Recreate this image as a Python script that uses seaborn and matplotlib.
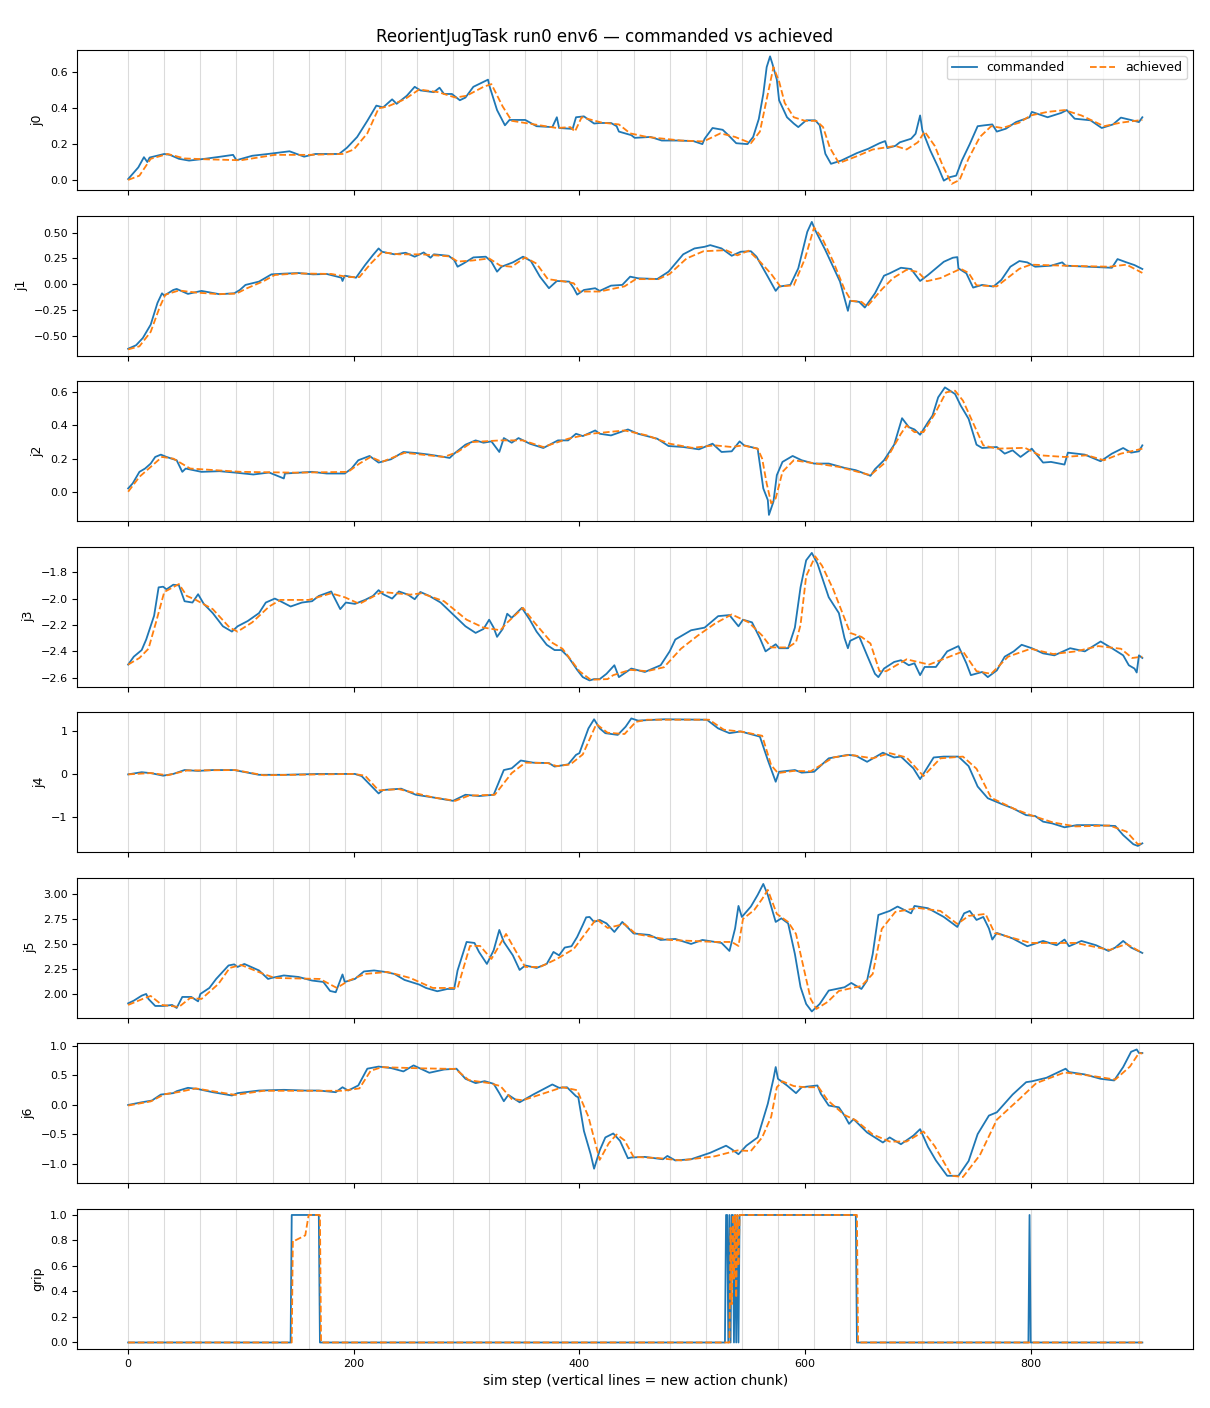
import pandas as pd
import matplotlib
matplotlib.use("Agg")
import matplotlib.pyplot as plt
import seaborn as sns

# joint traces: step positions and values (commanded / achieved)
J0_CMD_STEP = [0, 9, 14, 17, 19, 32, 37, 45, 54, 68, 82, 93, 96, 110, 124, 143, 156, 166, 187, 194,
               203, 212, 220, 226, 234, 238, 247, 254, 259, 271, 276, 280, 287, 294, 299, 306, 319,
               320, 327, 334, 338, 352, 362, 376, 380, 382, 394, 397, 404, 413, 418, 428, 433, 435,
               446, 449, 463, 473, 487, 501, 509, 511, 518, 527, 532, 539, 549, 554, 559, 563, 566,
               569, 571, 575, 577, 584, 590, 594, 601, 609, 613, 618, 623, 632, 646, 656, 666, 671,
               673, 680, 684, 694, 698, 702, 704, 711, 718, 723, 728, 734, 739, 746, 753, 759, 766,
               770, 778, 787, 799, 801, 815, 827, 832, 839, 853, 863, 873, 880, 890, 896, 899]
J0_CMD = [0.005, 0.07, 0.127, 0.10, 0.125, 0.145, 0.14, 0.118, 0.108, 0.118, 0.13, 0.14, 0.11, 0.135,
          0.145, 0.16, 0.13, 0.145, 0.145, 0.18, 0.24, 0.33, 0.415, 0.405, 0.45, 0.425, 0.47, 0.52,
          0.50, 0.49, 0.515, 0.48, 0.48, 0.445, 0.46, 0.52, 0.56, 0.53, 0.39, 0.305, 0.335, 0.335,
          0.30, 0.295, 0.35, 0.29, 0.285, 0.35, 0.355, 0.315, 0.318, 0.318, 0.30, 0.27, 0.25, 0.235,
          0.24, 0.22, 0.22, 0.217, 0.20, 0.23, 0.29, 0.28, 0.25, 0.205, 0.20, 0.24, 0.34, 0.48, 0.63,
          0.69, 0.65, 0.56, 0.445, 0.35, 0.315, 0.295, 0.333, 0.333, 0.305, 0.146, 0.09, 0.108, 0.15,
          0.174, 0.205, 0.217, 0.178, 0.19, 0.21, 0.23, 0.258, 0.36, 0.277, 0.165, 0.071, -0.004,
          0.015, 0.024, 0.108, 0.20, 0.30, 0.305, 0.31, 0.27, 0.286, 0.323, 0.35, 0.38, 0.35, 0.374,
          0.39, 0.342, 0.333, 0.29, 0.31, 0.348, 0.333, 0.323, 0.35]
J0_ACH_STEP = [0, 10, 20, 35, 50, 70, 100, 130, 160, 190, 200, 212, 222, 230, 245, 258, 275, 290, 300,
               315, 322, 332, 340, 360, 380, 392, 396, 402, 420, 435, 445, 460, 490, 510, 525, 538,
               552, 560, 566, 572, 577, 582, 590, 600, 610, 616, 622, 630, 645, 660, 680, 690, 700,
               706, 715, 722, 730, 737, 745, 755, 765, 775, 790, 800, 815, 830, 845, 865, 880, 899]
J0_ACH = [0.0, 0.024, 0.118, 0.145, 0.12, 0.115, 0.11, 0.14, 0.14, 0.145, 0.17, 0.26, 0.40, 0.41, 0.45,
          0.505, 0.49, 0.46, 0.47, 0.52, 0.535, 0.41, 0.33, 0.31, 0.29, 0.295, 0.27, 0.35, 0.32, 0.31,
          0.26, 0.24, 0.22, 0.215, 0.26, 0.24, 0.205, 0.27, 0.45, 0.63, 0.55, 0.43, 0.35, 0.33, 0.33,
          0.295, 0.18, 0.094, 0.13, 0.17, 0.19, 0.17, 0.21, 0.27, 0.19, 0.08, -0.022, 0.0, 0.12, 0.24,
          0.30, 0.29, 0.32, 0.36, 0.38, 0.39, 0.36, 0.30, 0.32, 0.335]

J1_CMD_STEP = [0, 7, 13, 20, 26, 30, 32, 40, 43, 53, 65, 81, 94, 99, 104, 116, 127, 138, 151, 164, 176,
               189, 190, 192, 202, 210, 217, 222, 225, 236, 246, 254, 262, 268, 271, 284, 289, 292,
               297, 306, 317, 322, 327, 331, 341, 350, 357, 365, 373, 380, 391, 395, 398, 404, 414,
               418, 428, 438, 445, 452, 469, 479, 492, 502, 511, 516, 526, 535, 543, 552, 557, 567,
               574, 577, 587, 594, 602, 606, 609, 618, 631, 638, 640, 648, 653, 662, 670, 675, 685,
               694, 702, 709, 723, 731, 735, 736, 743, 749, 757, 767, 774, 782, 790, 797, 804, 818,
               828, 831, 851, 872, 877, 885, 892, 899]
J1_CMD = [-0.624, -0.59, -0.52, -0.39, -0.18, -0.087, -0.11, -0.055, -0.045, -0.093, -0.064, -0.096,
          -0.087, -0.055, -0.006, 0.026, 0.096, 0.103, 0.109, 0.096, 0.10, 0.064, 0.032, 0.083, 0.064,
          0.186, 0.283, 0.347, 0.315, 0.29, 0.305, 0.267, 0.308, 0.257, 0.29, 0.276, 0.235, 0.17, 0.20,
          0.26, 0.267, 0.218, 0.122, 0.17, 0.212, 0.267, 0.225, 0.074, -0.038, 0.032, 0.026, -0.038,
          -0.10, -0.055, -0.038, -0.064, -0.013, -0.006, 0.074, 0.058, 0.051, 0.122, 0.29, 0.347,
          0.363, 0.379, 0.347, 0.276, 0.315, 0.32, 0.267, 0.074, -0.064, -0.022, -0.006, 0.154, 0.508,
          0.604, 0.524, 0.331, 0.026, -0.257, -0.16, -0.17, -0.225, -0.087, 0.083, 0.106, 0.16, 0.148,
          0.032, 0.09, 0.218, 0.257, 0.263, 0.154, 0.106, -0.032, -0.006, -0.022, 0.042, 0.17, 0.225,
          0.212, 0.17, 0.18, 0.212, 0.18, 0.17, 0.16, 0.244, 0.212, 0.186, 0.148]
J1_ACH_STEP = [0, 10, 20, 28, 33, 45, 60, 80, 96, 105, 120, 130, 150, 180, 195, 205, 215, 225, 240, 260,
               285, 292, 305, 320, 330, 340, 352, 362, 372, 385, 395, 400, 418, 440, 450, 470, 480,
               495, 510, 530, 540, 550, 560, 570, 578, 590, 600, 608, 615, 625, 635, 641, 650, 655,
               668, 678, 690, 700, 708, 720, 738, 745, 752, 770, 790, 800, 830, 870, 885, 899]
J1_ACH = [-0.63, -0.60, -0.46, -0.22, -0.10, -0.06, -0.08, -0.095, -0.09, -0.04, 0.03, 0.09, 0.105,
          0.10, 0.07, 0.07, 0.20, 0.31, 0.29, 0.29, 0.27, 0.22, 0.23, 0.25, 0.18, 0.17, 0.26, 0.20,
          0.05, 0.03, 0.01, -0.07, -0.07, -0.02, 0.05, 0.05, 0.10, 0.25, 0.32, 0.33, 0.28, 0.325, 0.22,
          0.10, -0.02, -0.01, 0.25, 0.55, 0.45, 0.22, -0.05, -0.16, -0.17, -0.215, -0.05, 0.06, 0.14,
          0.12, 0.03, 0.06, 0.15, 0.11, -0.01, -0.02, 0.15, 0.19, 0.18, 0.17, 0.19, 0.11]

J2_CMD_STEP = [0, 4, 10, 15, 20, 24, 29, 34, 43, 48, 51, 65, 81, 94, 111, 125, 138, 139, 163, 176, 192,
               198, 204, 214, 222, 233, 244, 255, 267, 280, 285, 289, 299, 308, 315, 322, 329, 333,
               340, 346, 356, 368, 381, 390, 397, 403, 414, 418, 428, 443, 452, 469, 479, 492, 506,
               518, 526, 535, 542, 546, 558, 563, 567, 568, 572, 575, 580, 589, 597, 608, 621, 635,
               645, 658, 662, 670, 679, 686, 692, 697, 702, 709, 713, 718, 724, 733, 738, 745, 752,
               757, 770, 777, 784, 791, 801, 811, 818, 830, 833, 848, 862, 872, 882, 889, 896, 899]
J2_CMD = [0.02, 0.05, 0.12, 0.14, 0.17, 0.21, 0.224, 0.21, 0.19, 0.12, 0.14, 0.12, 0.124, 0.116, 0.104,
          0.116, 0.08, 0.11, 0.12, 0.11, 0.11, 0.14, 0.19, 0.216, 0.176, 0.196, 0.24, 0.234, 0.224,
          0.21, 0.204, 0.23, 0.284, 0.31, 0.296, 0.304, 0.24, 0.324, 0.296, 0.324, 0.29, 0.264, 0.31,
          0.31, 0.35, 0.336, 0.37, 0.35, 0.34, 0.376, 0.35, 0.32, 0.276, 0.27, 0.256, 0.29, 0.24, 0.244,
          0.304, 0.28, 0.26, 0.02, -0.05, -0.14, -0.06, 0.10, 0.18, 0.216, 0.19, 0.17, 0.17, 0.144,
          0.13, 0.096, 0.136, 0.19, 0.284, 0.444, 0.39, 0.376, 0.344, 0.42, 0.46, 0.57, 0.63, 0.59,
          0.52, 0.44, 0.284, 0.264, 0.27, 0.23, 0.25, 0.21, 0.26, 0.176, 0.18, 0.164, 0.236, 0.224,
          0.184, 0.23, 0.264, 0.236, 0.244, 0.28]
J2_ACH_STEP = [0, 10, 20, 30, 40, 55, 100, 150, 195, 205, 215, 225, 245, 280, 292, 305, 330, 350, 368,
               390, 410, 440, 460, 480, 500, 520, 535, 545, 558, 562, 566, 570, 574, 580, 590, 610,
               630, 658, 670, 685, 690, 697, 705, 715, 725, 733, 740, 750, 758, 770, 795, 808, 830,
               850, 865, 880, 899]
J2_ACH = [0.0, 0.09, 0.15, 0.21, 0.20, 0.14, 0.12, 0.115, 0.12, 0.17, 0.21, 0.18, 0.235, 0.21, 0.24,
          0.30, 0.31, 0.31, 0.27, 0.32, 0.35, 0.37, 0.34, 0.29, 0.265, 0.28, 0.27, 0.28, 0.26, 0.20,
          0.05, -0.07, -0.04, 0.12, 0.19, 0.17, 0.15, 0.10, 0.17, 0.35, 0.40, 0.36, 0.36, 0.47, 0.60,
          0.61, 0.55, 0.40, 0.28, 0.26, 0.265, 0.22, 0.21, 0.22, 0.19, 0.23, 0.26]

J3_CMD_STEP = [0, 5, 12, 16, 23, 27, 31, 34, 40, 45, 50, 57, 62, 67, 75, 84, 92, 97, 106, 116, 122, 130,
               135, 144, 154, 163, 169, 180, 188, 193, 201, 210, 217, 222, 226, 234, 240, 248, 254,
               259, 267, 277, 288, 299, 308, 315, 320, 324, 327, 332, 336, 340, 349, 356, 362, 371,
               378, 384, 390, 398, 403, 409, 413, 418, 424, 431, 435, 446, 458, 472, 480, 485, 499,
               511, 523, 533, 541, 545, 553, 560, 565, 574, 577, 585, 591, 596, 601, 606, 611, 621,
               630, 635, 638, 640, 648, 655, 662, 665, 670, 679, 685, 692, 697, 702, 706, 716, 726,
               736, 743, 747, 757, 762, 770, 777, 785, 792, 801, 811, 821, 835, 848, 862, 872, 882,
               887, 892, 894, 896, 899]
J3_CMD = [-2.50, -2.44, -2.39, -2.31, -2.13, -1.915, -1.91, -1.93, -1.895, -1.90, -2.02, -2.03, -1.967,
          -2.04, -2.11, -2.21, -2.25, -2.21, -2.17, -2.11, -2.03, -2.0, -2.02, -2.06, -2.03, -2.02,
          -1.98, -1.946, -2.08, -2.03, -2.04, -2.01, -1.98, -1.936, -1.967, -2.0, -1.946, -1.97,
          -2.005, -1.95, -1.98, -2.03, -2.12, -2.21, -2.26, -2.23, -2.16, -2.22, -2.29, -2.23, -2.115,
          -2.146, -2.07, -2.16, -2.25, -2.35, -2.39, -2.39, -2.44, -2.54, -2.595, -2.62, -2.61, -2.61,
          -2.57, -2.505, -2.595, -2.53, -2.556, -2.505, -2.40, -2.31, -2.24, -2.22, -2.133, -2.125,
          -2.21, -2.16, -2.18, -2.30, -2.40, -2.346, -2.376, -2.376, -2.22, -1.915, -1.71, -1.654,
          -1.735, -1.99, -2.11, -2.30, -2.376, -2.32, -2.287, -2.43, -2.57, -2.595, -2.53, -2.48,
          -2.467, -2.505, -2.49, -2.58, -2.518, -2.518, -2.40, -2.36, -2.49, -2.58, -2.556, -2.595,
          -2.544, -2.44, -2.40, -2.35, -2.376, -2.415, -2.43, -2.376, -2.40, -2.325, -2.376, -2.43,
          -2.505, -2.53, -2.56, -2.43, -2.45]
J3_ACH_STEP = [0, 10, 18, 25, 32, 45, 52, 60, 75, 90, 97, 110, 125, 135, 160, 180, 192, 205, 225, 250,
               260, 280, 300, 315, 330, 335, 350, 360, 375, 385, 400, 410, 425, 430, 445, 460, 475,
               490, 505, 520, 535, 550, 562, 570, 585, 592, 596, 601, 609, 615, 625, 640, 650, 658,
               666, 672, 690, 700, 710, 725, 740, 752, 765, 780, 800, 820, 840, 860, 880, 890, 899]
J3_ACH = [-2.50, -2.45, -2.38, -2.17, -1.95, -1.89, -1.98, -2.01, -2.08, -2.22, -2.25, -2.18, -2.06,
          -2.01, -2.01, -1.96, -1.99, -2.04, -1.95, -1.97, -1.96, -2.02, -2.16, -2.22, -2.24, -2.19,
          -2.07, -2.18, -2.33, -2.38, -2.55, -2.615, -2.61, -2.58, -2.54, -2.55, -2.52, -2.38, -2.28,
          -2.19, -2.12, -2.18, -2.28, -2.37, -2.37, -2.33, -2.2, -1.83, -1.68, -1.75, -1.93, -2.26,
          -2.29, -2.34, -2.55, -2.55, -2.46, -2.48, -2.50, -2.45, -2.40, -2.55, -2.57, -2.44, -2.38,
          -2.42, -2.40, -2.36, -2.38, -2.45, -2.44]

J4_CMD_STEP = [0, 12, 21, 31, 40, 50, 62, 75, 94, 116, 138, 169, 201, 207, 216, 222, 226, 242, 255, 270,
               288, 299, 311, 324, 333, 340, 348, 359, 373, 378, 390, 397, 400, 408, 413, 418, 423,
               434, 441, 446, 452, 475, 513, 523, 533, 543, 560, 567, 574, 577, 591, 597, 608, 621,
               638, 645, 655, 669, 679, 685, 696, 702, 714, 723, 736, 745, 753, 762, 774, 784, 796,
               804, 811, 819, 830, 841, 858, 875, 882, 891, 895, 899]
J4_CMD = [-0.01, 0.04, 0.015, -0.04, 0.0, 0.09, 0.07, 0.09, 0.09, -0.02, -0.02, 0.0, 0.0, -0.05, -0.29,
          -0.45, -0.37, -0.34, -0.48, -0.54, -0.62, -0.48, -0.51, -0.48, 0.09, 0.13, 0.31, 0.26, 0.25,
          0.17, 0.22, 0.44, 0.48, 1.05, 1.26, 1.05, 0.94, 0.90, 1.09, 1.28, 1.23, 1.26, 1.25, 1.05,
          0.94, 0.98, 0.86, 0.32, -0.18, 0.05, 0.09, 0.03, 0.05, 0.36, 0.44, 0.42, 0.28, 0.49, 0.38,
          0.40, 0.13, -0.12, 0.38, 0.40, 0.40, 0.18, -0.29, -0.56, -0.69, -0.79, -0.95, -0.97, -1.10,
          -1.14, -1.23, -1.18, -1.18, -1.20, -1.41, -1.62, -1.66, -1.60]
J4_ACH_STEP = [0, 20, 35, 52, 95, 120, 200, 210, 222, 240, 270, 290, 302, 325, 340, 352, 372, 380, 392,
               403, 415, 425, 440, 450, 460, 515, 528, 545, 562, 570, 576, 590, 605, 625, 640, 660,
               675, 690, 705, 720, 740, 752, 765, 785, 800, 820, 840, 870, 885, 895, 899]
J4_ACH = [-0.01, 0.02, -0.03, 0.08, 0.09, -0.03, 0.0, -0.04, -0.38, -0.35, -0.54, -0.62, -0.50, -0.48,
          0.02, 0.26, 0.25, 0.18, 0.22, 0.45, 1.15, 0.95, 0.92, 1.20, 1.25, 1.25, 1.02, 0.97, 0.88,
          0.20, 0.02, 0.07, 0.06, 0.38, 0.44, 0.36, 0.48, 0.38, -0.05, 0.36, 0.40, 0.12, -0.55, -0.80,
          -0.95, -1.12, -1.21, -1.19, -1.33, -1.62, -1.60]

J5_CMD_STEP = [0, 5, 12, 16, 18, 24, 31, 39, 43, 48, 56, 62, 64, 72, 78, 89, 94, 97, 103, 116, 124, 127,
               138, 151, 163, 173, 179, 184, 190, 192, 201, 209, 218, 228, 236, 245, 258, 264, 274,
               283, 289, 292, 300, 307, 311, 318, 324, 329, 333, 341, 347, 352, 362, 371, 377, 382,
               387, 393, 398, 403, 406, 409, 413, 418, 424, 431, 438, 448, 462, 472, 485, 499, 509,
               526, 533, 538, 541, 544, 552, 558, 563, 567, 574, 579, 585, 591, 596, 601, 606, 613,
               621, 635, 641, 650, 655, 660, 665, 675, 682, 694, 697, 709, 723, 735, 741, 746, 752,
               758, 763, 766, 770, 784, 797, 811, 823, 830, 834, 845, 858, 869, 875, 882, 889, 899]
J5_CMD = [1.906, 1.933, 1.983, 2.0, 1.95, 1.88, 1.88, 1.89, 1.86, 1.97, 1.97, 1.926, 2.0, 2.06, 2.15,
          2.285, 2.296, 2.27, 2.30, 2.235, 2.15, 2.16, 2.185, 2.17, 2.134, 2.12, 2.03, 2.017, 2.195,
          2.12, 2.15, 2.225, 2.235, 2.22, 2.20, 2.14, 2.094, 2.06, 2.027, 2.05, 2.05, 2.235, 2.52, 2.51,
          2.42, 2.30, 2.437, 2.64, 2.52, 2.386, 2.24, 2.285, 2.26, 2.30, 2.42, 2.386, 2.464, 2.477,
          2.57, 2.69, 2.766, 2.77, 2.72, 2.74, 2.706, 2.62, 2.72, 2.605, 2.59, 2.54, 2.55, 2.50, 2.54,
          2.51, 2.43, 2.655, 2.88, 2.77, 2.874, 2.99, 3.10, 2.99, 2.72, 2.756, 2.706, 2.40, 2.07, 1.90,
          1.825, 1.90, 2.034, 2.067, 2.11, 2.05, 2.134, 2.40, 2.79, 2.83, 2.874, 2.806, 2.88, 2.857,
          2.77, 2.67, 2.806, 2.83, 2.74, 2.77, 2.655, 2.544, 2.61, 2.555, 2.477, 2.53, 2.487, 2.544,
          2.477, 2.53, 2.487, 2.43, 2.464, 2.53, 2.464, 2.41]
J5_ACH_STEP = [0, 15, 20, 30, 45, 55, 65, 80, 90, 100, 120, 130, 170, 185, 195, 210, 230, 250, 270, 292,
               303, 312, 322, 335, 345, 352, 365, 380, 395, 405, 415, 425, 440, 450, 480, 520, 535,
               541, 545, 555, 562, 567, 575, 585, 592, 600, 605, 610, 620, 630, 650, 660, 668, 680,
               700, 720, 735, 745, 760, 768, 800, 840, 870, 885, 899]
J5_ACH = [1.89, 1.96, 1.98, 1.89, 1.87, 1.96, 1.95, 2.10, 2.26, 2.29, 2.20, 2.16, 2.15, 2.06, 2.13, 2.20,
          2.22, 2.16, 2.06, 2.06, 2.48, 2.48, 2.35, 2.60, 2.40, 2.27, 2.27, 2.35, 2.45, 2.60, 2.75,
          2.66, 2.70, 2.60, 2.54, 2.52, 2.52, 2.48, 2.75, 2.84, 2.95, 3.04, 2.80, 2.72, 2.60, 2.20,
          1.95, 1.85, 1.92, 2.03, 2.08, 2.20, 2.65, 2.82, 2.86, 2.83, 2.70, 2.78, 2.80, 2.61, 2.51,
          2.51, 2.44, 2.50, 2.41]

J6_CMD_STEP = [0, 12, 21, 29, 40, 43, 53, 61, 75, 92, 97, 116, 138, 157, 169, 184, 190, 195, 204, 212,
               222, 233, 244, 253, 267, 280, 291, 299, 308, 316, 324, 329, 333, 337, 347, 359, 376,
               382, 389, 397, 399, 404, 410, 413, 418, 423, 430, 436, 443, 446, 458, 474, 478, 485,
               499, 516, 530, 535, 541, 548, 558, 567, 572, 574, 576, 584, 592, 597, 611, 614, 621,
               630, 635, 639, 643, 655, 669, 675, 685, 696, 702, 709, 716, 726, 736, 745, 753, 763,
               770, 784, 796, 801, 814, 831, 834, 848, 862, 874, 882, 889, 894, 896, 899]
J6_CMD = [0.0, 0.045, 0.074, 0.176, 0.20, 0.233, 0.29, 0.273, 0.216, 0.16, 0.20, 0.244, 0.256, 0.244,
          0.244, 0.216, 0.30, 0.244, 0.33, 0.614, 0.65, 0.625, 0.568, 0.67, 0.545, 0.60, 0.614, 0.443,
          0.37, 0.403, 0.358, 0.20, 0.063, 0.17, 0.045, 0.176, 0.347, 0.29, 0.30, 0.148, 0.13, -0.44,
          -0.835, -1.08, -0.77, -0.55, -0.483, -0.608, -0.903, -0.89, -0.88, -0.92, -0.864, -0.94,
          -0.92, -0.81, -0.69, -0.75, -0.835, -0.69, -0.55, 0.02, 0.443, 0.642, 0.443, 0.33, 0.20,
          0.30, 0.33, 0.19, -0.01, -0.04, -0.18, -0.32, -0.24, -0.466, -0.636, -0.55, -0.665, -0.52,
          -0.41, -0.71, -0.94, -1.20, -1.20, -0.95, -0.494, -0.18, -0.125, 0.176, 0.386, 0.40, 0.46,
          0.614, 0.557, 0.517, 0.443, 0.415, 0.642, 0.90, 0.94, 0.88, 0.88]
J6_ACH_STEP = [0, 20, 32, 45, 60, 95, 120, 190, 205, 215, 225, 260, 290, 302, 320, 330, 340, 350, 385,
               398, 408, 418, 426, 433, 440, 448, 470, 490, 520, 540, 552, 562, 570, 575, 580, 590,
               600, 612, 620, 635, 645, 660, 675, 690, 705, 715, 730, 740, 755, 770, 790, 805, 830,
               855, 875, 888, 896, 899]
J6_ACH = [-0.01, 0.06, 0.18, 0.22, 0.28, 0.17, 0.24, 0.24, 0.28, 0.58, 0.64, 0.62, 0.61, 0.42, 0.37,
          0.32, 0.10, 0.08, 0.30, 0.25, -0.20, -0.93, -0.65, -0.50, -0.60, -0.88, -0.90, -0.94, -0.87,
          -0.77, -0.78, -0.55, -0.20, 0.30, 0.40, 0.32, 0.30, 0.30, 0.08, -0.17, -0.26, -0.50, -0.62,
          -0.62, -0.45, -0.70, -1.20, -1.22, -0.85, -0.25, 0.10, 0.37, 0.55, 0.49, 0.43, 0.65, 0.88,
          0.87]

GRIP_CMD_STEP = [0, 144, 145, 169, 170, 529, 530, 531, 532, 533, 534, 535, 536, 537, 538, 539, 540, 541,
                 542, 645, 646, 798, 799, 800, 899]
GRIP_CMD = [0, 0, 1, 1, 0, 0, 1, 1, 0, 1, 0, 1, 1, 0, 1, 0, 1, 0, 1, 1, 0, 0, 1, 0, 0]
GRIP_ACH_STEP = [0, 145, 146, 148, 157, 160, 170, 171, 533, 534, 535, 536, 537, 538, 539, 540, 541,
                 542, 543, 646, 647, 899]
GRIP_ACH = [0, 0, 0.8, 0.8, 0.84, 1.0, 1.0, 0, 0, 0.9, 0.3, 1.0, 0.5, 1.0, 0.35, 1.0, 0.6, 1.0, 1.0,
            1.0, 0, 0]

CHUNK_STARTS = [0, 32, 64, 96, 128, 160, 192, 224, 256, 288, 320, 352, 384, 416, 448, 480, 512, 544,
                576, 608, 640, 672, 704, 736, 768, 800, 832, 864, 896]

CHANNELS = [
    ("j0", J0_CMD_STEP, J0_CMD, J0_ACH_STEP, J0_ACH),
    ("j1", J1_CMD_STEP, J1_CMD, J1_ACH_STEP, J1_ACH),
    ("j2", J2_CMD_STEP, J2_CMD, J2_ACH_STEP, J2_ACH),
    ("j3", J3_CMD_STEP, J3_CMD, J3_ACH_STEP, J3_ACH),
    ("j4", J4_CMD_STEP, J4_CMD, J4_ACH_STEP, J4_ACH),
    ("j5", J5_CMD_STEP, J5_CMD, J5_ACH_STEP, J5_ACH),
    ("j6", J6_CMD_STEP, J6_CMD, J6_ACH_STEP, J6_ACH),
    ("grip", GRIP_CMD_STEP, GRIP_CMD, GRIP_ACH_STEP, GRIP_ACH),
]


def build_frame(cmd_step, cmd, ach_step, ach):
    cmd_df = pd.DataFrame({"step": cmd_step, "value": cmd, "signal": "commanded"})
    ach_df = pd.DataFrame({"step": ach_step, "value": ach, "signal": "achieved"})
    return pd.concat([cmd_df, ach_df], ignore_index=True)


plt.rcParams["xtick.labelsize"] = 8
plt.rcParams["ytick.labelsize"] = 8

fig, axes = plt.subplots(len(CHANNELS), 1, figsize=(12.1, 14.08), sharex=True)
fig.subplots_adjust(left=0.064, right=0.986, top=0.9645, bottom=0.042, hspace=0.18)

for ax, (name, cmd_step, cmd, ach_step, ach) in zip(axes, CHANNELS):
    df = build_frame(cmd_step, cmd, ach_step, ach)
    # light grey markers at each new action chunk
    for x in CHUNK_STARTS:
        ax.axvline(x, color="lightgray", linewidth=0.8, alpha=0.8, zorder=0)
    sns.lineplot(data=df[df["signal"] == "commanded"], x="step", y="value", ax=ax,
                 color="tab:blue", linewidth=1.3, estimator=None, label="commanded", legend=False)
    sns.lineplot(data=df[df["signal"] == "achieved"], x="step", y="value", ax=ax,
                 color="tab:orange", linewidth=1.3, linestyle="--", estimator=None,
                 label="achieved", legend=False)
    ax.set_ylabel(name, fontsize=9)
    ax.set_xlabel("")

axes[0].legend(loc="upper right", ncol=2, fontsize=9)
axes[-1].set_xlabel("sim step (vertical lines = new action chunk)", fontsize=10)
fig.suptitle("ReorientJugTask run0 env6 — commanded vs achieved", fontsize=12, y=0.980)

fig.savefig("out.png", dpi=100)
